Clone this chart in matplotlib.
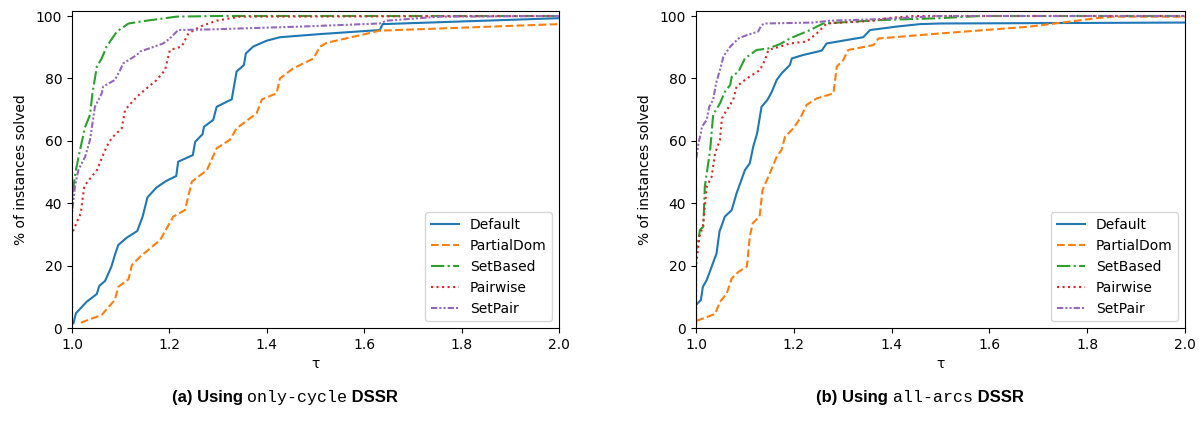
import matplotlib
matplotlib.use("Agg")
import matplotlib.pyplot as plt
from matplotlib.offsetbox import TextArea, HPacker, AnnotationBbox

labels = ["Default", "PartialDom", "SetBased", "Pairwise", "SetPair"]

# ---- panel (a): only-cycle DSSR ----
a_default_tau = [1.003, 1.008, 1.030, 1.051, 1.056, 1.068, 1.081, 1.088, 1.095, 1.112, 1.134, 1.145, 1.155,
                 1.174, 1.193, 1.214, 1.218, 1.248, 1.253, 1.268, 1.271, 1.29, 1.297, 1.328, 1.338, 1.353,
                 1.357, 1.372, 1.40, 1.427, 1.509, 1.632, 1.638, 2.0]
a_default_val = [1.5, 4.7, 8.4, 10.9, 13.5, 15.1, 19.7, 23.4, 26.6, 28.9, 31.1, 35.7, 41.9,
                 45.1, 47.1, 48.7, 53.3, 55.4, 59.7, 62.1, 64.5, 66.7, 70.9, 73.3, 82.2, 84.3,
                 88.0, 90.2, 92.1, 93.2, 94.2, 95.5, 97.4, 99.3]
a_partial_tau = [1.018, 1.061, 1.088, 1.095, 1.116, 1.123, 1.140, 1.181, 1.208, 1.232, 1.246, 1.277, 1.297,
                 1.324, 1.338, 1.379, 1.390, 1.420, 1.427, 1.454, 1.496, 1.509, 1.523, 1.632, 2.0]
a_partial_val = [1.7, 4.2, 9.0, 13.2, 15.6, 20.2, 22.9, 28.2, 35.7, 37.8, 46.9, 50.6, 57.6,
                 60.3, 64.0, 68.8, 73.3, 75.2, 80.0, 83.2, 86.4, 90.2, 91.4, 95.3, 97.4]
a_setbased_tau = [1.0, 1.0, 1.003, 1.008, 1.015, 1.027, 1.037, 1.042, 1.051, 1.061, 1.071, 1.092, 1.116,
                  1.153, 1.215, 1.3, 2.0]
a_setbased_val = [1.0, 41.0, 45.3, 50.6, 56.0, 64.5, 68.3, 75.2, 83.8, 86.4, 90.2, 95.0, 97.6,
                  98.5, 99.8, 100, 100]
a_pairwise_tau = [1.0, 1.0, 1.006, 1.018, 1.025, 1.032, 1.051, 1.061, 1.071, 1.081, 1.102, 1.109, 1.133,
                  1.153, 1.174, 1.191, 1.201, 1.225, 1.239, 1.263, 1.297, 1.345, 2.0]
a_pairwise_val = [1.0, 30.3, 32.5, 36.8, 45.3, 46.9, 50.6, 54.4, 58.1, 60.8, 64.0, 69.9, 74.1,
                  76.8, 79.5, 82.7, 89.1, 90.2, 94.4, 96.6, 98.5, 99.8, 100]
a_setpair_tau = [1.0, 1.0, 1.006, 1.013, 1.027, 1.037, 1.047, 1.061, 1.064, 1.088, 1.099, 1.105, 1.133,
                 1.140, 1.187, 1.201, 1.218, 1.283, 1.468, 1.632, 1.646, 1.756, 2.0]
a_setpair_val = [1.0, 36.8, 45.3, 50.6, 54.9, 60.3, 70.9, 75.2, 77.4, 79.5, 82.7, 84.8, 87.5,
                 88.6, 91.2, 92.8, 95.5, 95.7, 96.6, 97.6, 98.5, 99.8, 100]

# ---- panel (b): all-arcs DSSR ----
b_default_tau = [1.0, 1.0, 1.01, 1.014, 1.022, 1.042, 1.048, 1.059, 1.073, 1.083, 1.1, 1.11, 1.117, 1.125,
                 1.134, 1.146, 1.155, 1.165, 1.175, 1.192, 1.196, 1.219, 1.257, 1.267, 1.342, 1.356, 1.41,
                 1.458, 1.499, 2.0]
b_default_val = [1.0, 7.4, 9.0, 13.2, 15.4, 23.9, 30.9, 35.7, 37.8, 43.2, 50.6, 52.8, 58.1, 62.4,
                 70.9, 73.1, 75.7, 79.5, 81.6, 84.3, 86.4, 87.5, 88.9, 91.2, 93.2, 95.5, 96.6,
                 97.4, 97.6, 97.9]
b_partial_tau = [1.001, 1.039, 1.049, 1.063, 1.073, 1.087, 1.104, 1.11, 1.116, 1.13, 1.136, 1.151, 1.165,
                 1.175, 1.182, 1.199, 1.213, 1.226, 1.247, 1.281, 1.288, 1.301, 1.311, 1.363, 1.373, 1.499,
                 1.683, 1.819, 1.853, 2.0]
b_partial_val = [2.3, 4.5, 8.4, 11.1, 15.9, 18.0, 19.7, 29.3, 33.6, 35.7, 44.2, 49.6, 54.9,
                 57.1, 61.3, 64.0, 67.2, 71.5, 73.6, 75.2, 83.8, 85.9, 89.1, 90.7, 92.8, 94.4,
                 96.6, 99.3, 99.8, 99.8]
b_setbased_tau = [1.0, 1.0, 1.005, 1.008, 1.015, 1.018, 1.029, 1.035, 1.049, 1.059, 1.07, 1.073, 1.087,
                  1.1, 1.124, 1.148, 1.172, 1.192, 1.233, 1.26, 1.376, 1.499, 1.58, 2.0]
b_setbased_val = [1.0, 25.0, 28.2, 31.4, 32.5, 45.3, 57.1, 68.3, 72.0, 75.7, 77.9, 80.5, 82.2,
                  86.4, 89.1, 89.6, 91.0, 92.8, 95.5, 97.6, 98.7, 99.3, 100, 100]
b_pairwise_tau = [1.0, 1.0, 1.007, 1.014, 1.022, 1.032, 1.039, 1.049, 1.053, 1.063, 1.076, 1.083, 1.104,
                  1.131, 1.141, 1.148, 1.172, 1.192, 1.226, 1.247, 1.267, 1.363, 1.39, 1.444, 2.0]
b_pairwise_val = [1.0, 19.7, 29.3, 32.5, 45.3, 48.5, 56.0, 60.3, 67.2, 69.9, 73.1, 77.4, 80.0,
                  82.7, 85.9, 89.1, 90.2, 91.2, 91.8, 94.4, 97.6, 98.5, 99.3, 100, 100]
b_setpair_tau = [1.0, 1.0, 1.005, 1.01, 1.012, 1.022, 1.027, 1.035, 1.041, 1.049, 1.056, 1.07, 1.087,
                 1.104, 1.127, 1.134, 1.141, 1.24, 1.274, 1.376, 1.499, 2.0]
b_setpair_val = [1.0, 53.8, 59.2, 62.4, 64.5, 66.7, 70.9, 73.1, 78.4, 82.7, 87.0, 90.2, 92.8,
                 93.9, 95.0, 97.1, 97.6, 97.9, 98.5, 99.0, 100, 100]

xticks = [1.0, 1.2, 1.4, 1.6, 1.8, 2.0]
yticks = [0, 20, 40, 60, 80, 100]

colors = ["#1f77b4", "#ff7f0e", "#2ca02c", "#d62728", "#9467bd"]
styles = ["-", "--", "-.", ":", (0, (3, 1, 1, 1, 1, 1))]

panels = [
    ([(a_default_tau, a_default_val), (a_partial_tau, a_partial_val), (a_setbased_tau, a_setbased_val),
      (a_pairwise_tau, a_pairwise_val), (a_setpair_tau, a_setpair_val)], "only-cycle"),
    ([(b_default_tau, b_default_val), (b_partial_tau, b_partial_val), (b_setbased_tau, b_setbased_val),
      (b_pairwise_tau, b_pairwise_val), (b_setpair_tau, b_setpair_val)], "all-arcs"),
]

fig = plt.figure(figsize=(12.03, 4.23), dpi=100)
ax_rects = [[72 / 1203, 95 / 423, 487 / 1203, 317.3 / 423],
            [696 / 1203, 95 / 423, 489 / 1203, 317.3 / 423]]
caption_x = [285 / 1203, 920 / 1203]
letters = ["(a)", "(b)"]

for i, (series, mode) in enumerate(panels):
    ax = fig.add_axes(ax_rects[i])
    for (t, v), lab, c, ls in zip(series, labels, colors, styles):
        ax.plot(t, v, color=c, linestyle=ls, linewidth=1.5, label=lab)
    ax.set_xlim(1.0, 2.0)
    ax.set_ylim(0, 101.7)
    ax.set_xticks(xticks)
    ax.set_yticks(yticks)
    ax.tick_params(labelsize=10)
    ax.set_xlabel("τ", fontsize=10)
    ax.set_ylabel("% of instances solved", fontsize=10, labelpad=6)
    ax.legend(loc="lower right", fontsize=10)

    parts = [
        TextArea(letters[i] + " Using ", textprops=dict(family="Liberation Sans", weight="bold", size=12)),
        TextArea(mode, textprops=dict(family="Liberation Mono", size=12)),
        TextArea(" DSSR", textprops=dict(family="Liberation Sans", weight="bold", size=12)),
    ]
    box = HPacker(children=parts, align="baseline", pad=0, sep=0)
    ab = AnnotationBbox(box, (caption_x[i], 26 / 423), xycoords="figure fraction",
                        frameon=False, box_alignment=(0.5, 0.5))
    fig.add_artist(ab)

fig.savefig("out.png", dpi=100)
